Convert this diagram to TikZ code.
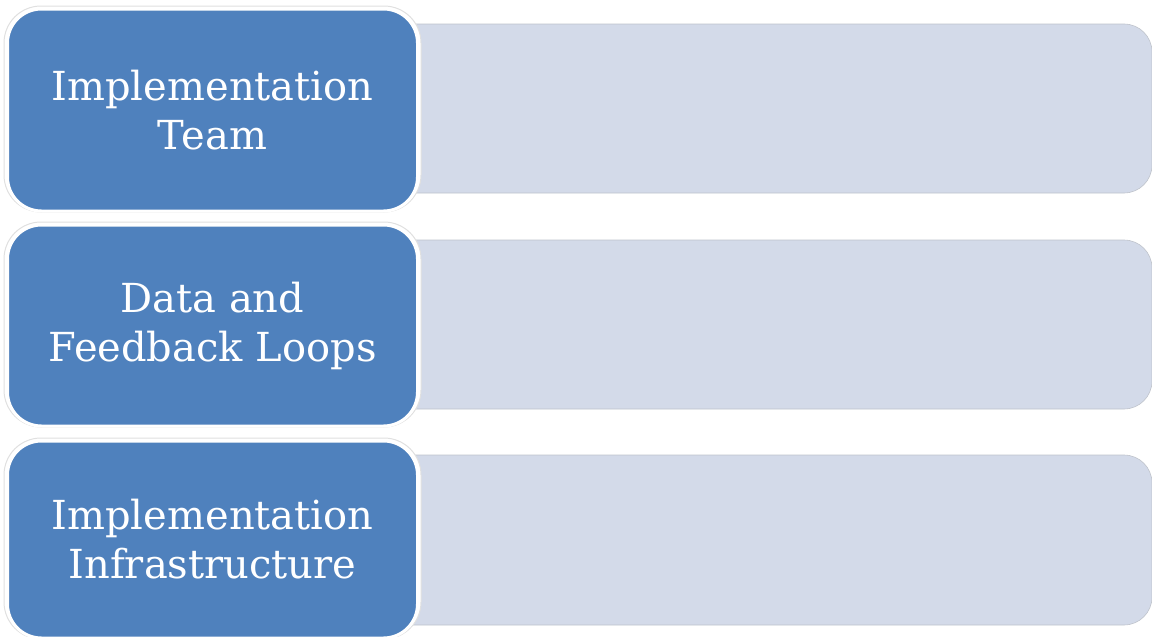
\documentclass[tikz,border=0pt]{standalone}
\usepackage{fontspec}
\setmainfont{DejaVu Serif}
\definecolor{bluebox}{HTML}{4F81BD}
\definecolor{lightbox}{HTML}{D3DAE9}
\definecolor{edgegray}{HTML}{BFC3CB}
\begin{document}
\begin{tikzpicture}[x=1pt,y=-1pt,
  labelbox/.style={rectangle, rounded corners=34pt, fill=bluebox, draw=white, line width=3pt,
     minimum width=410pt, text=white, align=center, font=\fontsize{40}{49}\selectfont, inner sep=0pt},
  halo/.style={rounded corners=37pt, draw=black!12, line width=1pt, fill=white},
  panel/.style={fill=lightbox, draw=edgegray, line width=0.6pt}]
\useasboundingbox (0,0) rectangle (1152,637);
% panels
\foreach \t/\b [count=\i] in {24/193, 240/409, 455/625}{
  \path[panel] (380,\t) [rounded corners=28pt] -- (1152,\t) -- (1152,\b) [sharp corners] -- (380,\b) -- cycle;
  \coordinate (p\i) at (780,{(\t+\b)/2});
}
% halos
\foreach \t/\b in {6/212, 222/427, 438/639}{
  \path[halo] (4,\t) rectangle (421,\b);
}
\node[labelbox, minimum height=202pt] (a) at (212.5,110) {Implementation\\Team};
\node[labelbox, minimum height=201pt] (b) at (212.5,325.5) {Data and\\Feedback Loops};
\node[labelbox, minimum height=197pt] (c) at (212.5,539.5) {Implementation\\Infrastructure};
\end{tikzpicture}
\end{document}
